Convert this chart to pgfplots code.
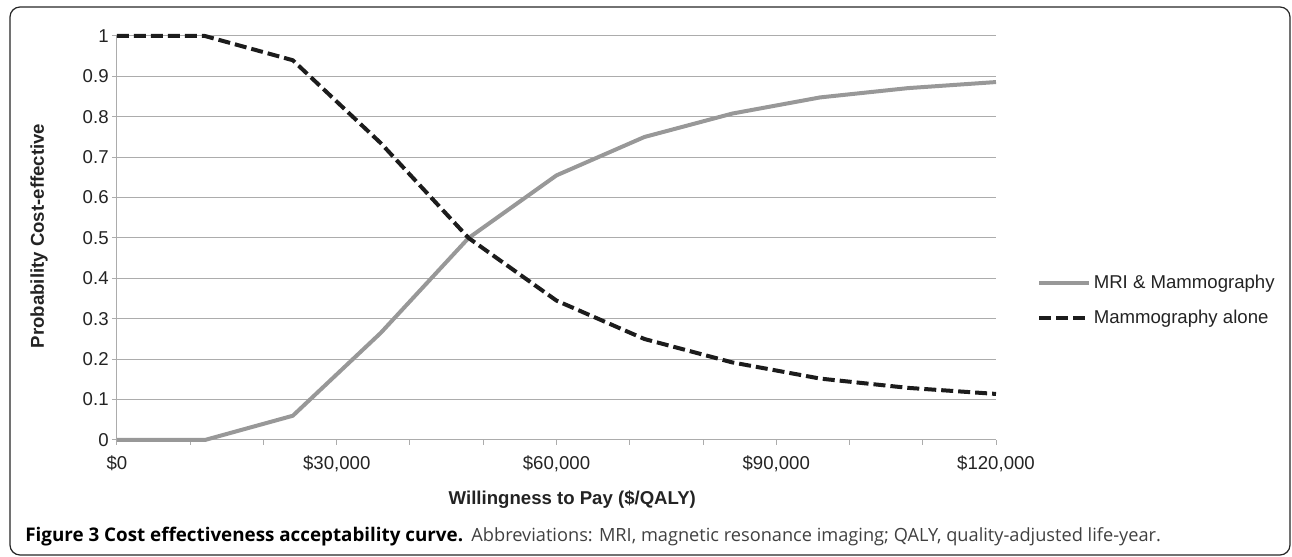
\documentclass[border=0pt]{standalone}
\usepackage{fontspec}
\setmainfont{Liberation Sans}
\newfontfamily\capfont{Open Sans}
\usepackage{pgfplots}
\usepackage{pgfplotstable}
\pgfplotsset{compat=1.18}

\definecolor{gridgray}{RGB}{172,172,172}
\definecolor{mrigray}{RGB}{152,152,152}
\definecolor{darkline}{RGB}{28,28,28}
\definecolor{txt}{RGB}{35,35,35}

% willingness to pay ($/QALY) vs probability cost-effective
\pgfplotstableread{
wtp     mri    mammo
0       0.000  1.000
12000   0.000  1.000
24000   0.060  0.940
36000   0.265  0.735
48000   0.500  0.500
60000   0.655  0.345
72000   0.750  0.250
84000   0.808  0.192
96000   0.848  0.152
108000  0.871  0.129
120000  0.886  0.114
}\cea

\begin{document}
\begin{tikzpicture}
\useasboundingbox (0,0) rectangle (646pt,278.5pt);
\draw[rounded corners=5pt, line width=0.6pt, black!85] (5pt,1pt) rectangle (645pt,275pt);
\begin{axis}[%
  at={(58.5pt,58.5pt)}, anchor=south west,
  scale only axis, width=439.5pt, height=202pt,
  xmin=0, xmax=120000, ymin=0, ymax=1,
  axis x line*=bottom, axis y line*=left,
  axis line style={gridgray, line width=0.5pt},
  xtick={0,30000,60000,90000,120000},
  minor xtick={10000,20000,40000,50000,70000,80000,100000,110000},
  xticklabels={{\$0},{\$30,000},{\$60,000},{\$90,000},{\$120,000}},
  ytick={0,0.1,0.2,0.3,0.4,0.5,0.6,0.7,0.8,0.9,1},
  yticklabels={0,0.1,0.2,0.3,0.4,0.5,0.6,0.7,0.8,0.9,1},
  scaled x ticks=false,
  ymajorgrids,
  major grid style={gridgray, line width=0.5pt},
  tick align=outside,
  major tick length=2.5pt, minor tick length=2.5pt,
  tick style={gridgray, line width=0.5pt},
  ticklabel style={font=\fontsize{9.3}{11}\selectfont, text=txt},
  xticklabel style={inner sep=0pt, anchor=north, yshift=-5pt},
  yticklabel style={inner sep=0pt, anchor=east, xshift=-1.5pt},
  xlabel={Willingness to Pay (\$/QALY)},
  ylabel={Probability Cost-effective},
  label style={font=\bfseries\fontsize{9.3}{11}\selectfont, text=txt},
  xlabel style={at={(axis description cs:0.518,-0.147)}, anchor=center},
  ylabel style={at={(axis description cs:-0.0887,0.505)}, anchor=center, rotate=0},
  legend style={at={(axis description cs:1.0466,0.416)}, anchor=north west,
    draw=none, fill=none, inner sep=0pt, row sep=6.8pt,
    font=\fontsize{9.3}{11}\selectfont, text=txt,
    nodes={inner sep=1.2pt, anchor=west}},
  legend cell align=left,
  legend image code/.code={\draw[#1] (0pt,0pt) -- (25pt,0pt);},
  clip=false,
]
\addplot[mrigray, line width=2pt, line join=round] table[x=wtp, y=mri] {\cea};
\addlegendentry{MRI \& Mammography}
\addplot[darkline, line width=2pt, line join=round, dash pattern=on 6pt off 2.5pt] table[x=wtp, y=mammo] {\cea};
\addlegendentry{Mammography alone}
\end{axis}
\node[anchor=west, inner sep=0pt, font=\capfont\fontsize{9.1}{11}\selectfont, text=black!75] at (12.5pt,10pt)
  {{\bfseries\fontsize{9.4}{11}\selectfont\color{black}Figure 3 Cost effectiveness acceptability curve.}\hspace{1pt} Abbreviations: MRI, magnetic resonance imaging; QALY, quality-adjusted life-year.};
\end{tikzpicture}
\end{document}
